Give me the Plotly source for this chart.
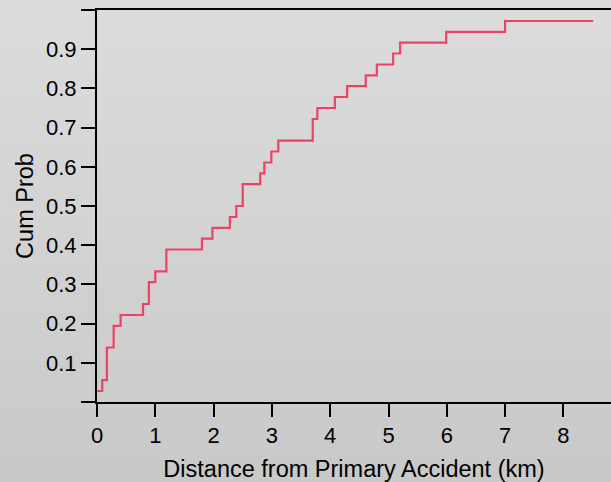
import plotly.graph_objects as go

# Step positions (km) and cumulative probabilities
distance_km = [0.0, 0.09, 0.17, 0.285, 0.405, 0.79, 0.89, 1.0, 1.19, 1.80, 1.98,
               2.28, 2.39, 2.50, 2.80, 2.87, 2.99, 3.11, 3.70, 3.78, 4.08, 4.29,
               4.61, 4.80, 5.08, 5.20, 5.99, 7.0, 8.51]
cum_prob = [0.028, 0.056, 0.139, 0.194, 0.222, 0.25, 0.306, 0.333, 0.389, 0.417,
            0.444, 0.472, 0.5, 0.556, 0.583, 0.611, 0.639, 0.667, 0.722, 0.75,
            0.778, 0.806, 0.833, 0.861, 0.889, 0.917, 0.944, 0.972, 0.972]

x_ticks = [0, 1, 2, 3, 4, 5, 6, 7, 8]
y_ticks = [0, 0.1, 0.2, 0.3, 0.4, 0.5, 0.6, 0.7, 0.8, 0.9, 1.0]
y_tick_text = ["", "0.1", "0.2", "0.3", "0.4", "0.5", "0.6", "0.7", "0.8", "0.9", ""]

W, H = 611, 482
ML, MR, MT, MB = 97, 0, 10, 80
pw, ph = W - ML - MR, H - MT - MB
px_per_km = 58.3

fig = go.Figure()
fig.add_trace(go.Scatter(
    x=distance_km, y=cum_prob, mode="lines",
    line=dict(color="#EE4263", width=2.2, shape="hv"),
    hoverinfo="skip", showlegend=False,
))

# background vertical gradient (light top -> darker bottom)
shapes = []
nb = 40
x0 = -ML / pw
x1 = 1 + MR / pw + 0.01
ybot = -MB / ph
ytop = 1 + MT / ph
for i in range(nb):
    t = i / (nb - 1)
    c = round(220 - 19 * t)
    ya = ytop - (ytop - ybot) * i / nb
    yb = ytop - (ytop - ybot) * (i + 1) / nb
    shapes.append(dict(type="rect", xref="paper", yref="paper", layer="below",
                       x0=x0, x1=x1, y0=yb - 0.002, y1=ya + 0.002,
                       line=dict(width=0), fillcolor=f"rgb({c},{c},{c})"))

font = dict(family="Liberation Sans, Arial, sans-serif", color="black")
fig.update_layout(
    width=W, height=H,
    margin=dict(l=ML, r=MR, t=MT, b=MB),
    paper_bgcolor="rgb(211,211,211)",
    plot_bgcolor="rgba(0,0,0,0)",
    shapes=shapes,
    font=dict(size=22, **font),
    xaxis=dict(
        range=[0, pw / px_per_km], tickvals=x_ticks,
        showgrid=False, zeroline=False,
        showline=True, linecolor="black", linewidth=2, mirror=True,
        ticks="outside", ticklen=13, tickwidth=2, tickcolor="black",
        tickfont=dict(size=22, **font),
        title=dict(text="Distance from Primary Accident (km)",
                   font=dict(size=23.5, **font), standoff=13),
    ),
    yaxis=dict(
        range=[0, 1], tickvals=y_ticks, ticktext=y_tick_text,
        showgrid=False, zeroline=False,
        showline=True, linecolor="black", linewidth=2,
        ticks="outside", ticklen=14, tickwidth=2, tickcolor="black",
        tickfont=dict(size=22, **font),
        title=dict(text="Cum Prob", font=dict(size=23.5, **font), standoff=6),
    ),
)

fig.write_html("out.html")
